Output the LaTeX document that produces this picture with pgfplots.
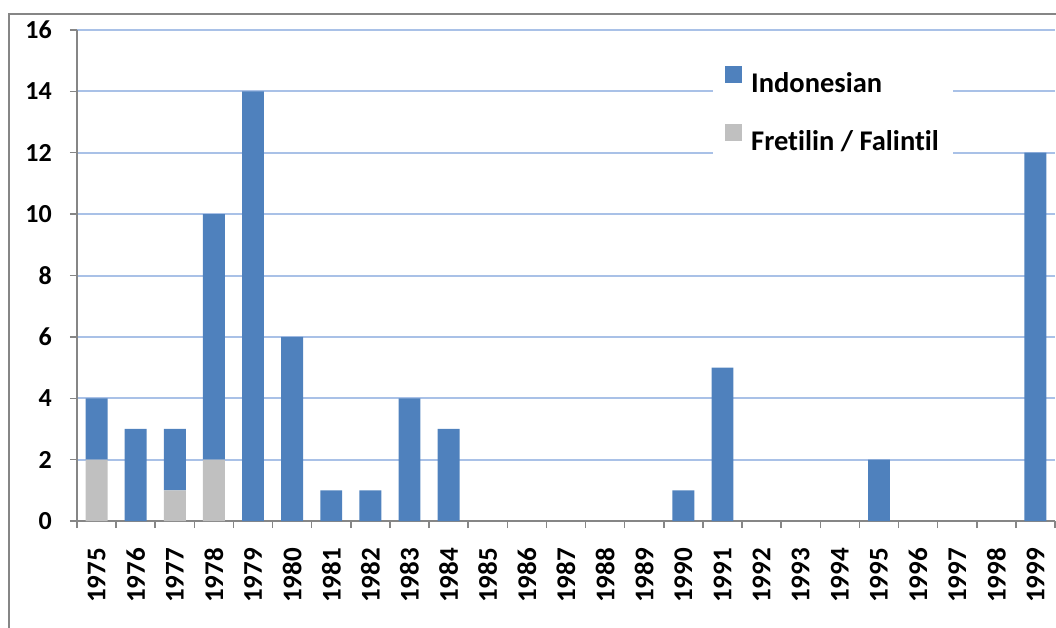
\documentclass[border=0pt]{standalone}
\usepackage{fontspec}
\setmainfont[Ligatures=NoCommon]{Carlito}
\usepackage{pgfplots}
\pgfplotsset{compat=1.18}
\usepackage{pgfplotstable}
\definecolor{indo}{HTML}{4F81BD}
\definecolor{fret}{HTML}{C0C0C0}
\definecolor{gridc}{HTML}{A9C1E7}
\definecolor{axc}{HTML}{868686}
\pgfplotstableread{
x fret indo
0 2 2
1 0 3
2 1 2
3 2 8
4 0 14
5 0 6
6 0 1
7 0 1
8 0 4
9 0 3
10 0 0
11 0 0
12 0 0
13 0 0
14 0 0
15 0 1
16 0 5
17 0 0
18 0 0
19 0 0
20 0 2
21 0 0
22 0 0
23 0 0
24 0 12
}\data
\begin{document}
\begin{tikzpicture}
\useasboundingbox (-77pt,-106pt) rectangle (979pt,521pt);
\draw[axc, line width=2pt] (-68pt,-110pt) -- (-68pt,507pt) -- (985pt,507pt);
\begin{axis}[
  at={(0,0)}, anchor=south west,
  scale only axis, width=978pt, height=491pt,
  ybar stacked, bar width=0.56,
  xmin=-0.5, xmax=24.5, ymin=0, ymax=16,
  axis lines*=left,
  axis line style={axc, line width=2pt},
  xtick={0,...,24},
  minor xtick={-0.5,0.5,...,24.5},
  xticklabels={1975,1976,1977,1978,1979,1980,1981,1982,1983,1984,1985,1986,1987,1988,1989,1990,1991,1992,1993,1994,1995,1996,1997,1998,1999},
  ytick={0,2,...,16},
  tick align=outside, major tick length=7pt, minor tick length=7pt,
  tick style={axc, line width=1.5pt},
  major x tick style={draw=none},
  ymajorgrids, grid style={gridc, line width=2pt},
  /pgf/number format/assume math mode=true,
  yticklabel style={font=\fontsize{26}{31}\selectfont\bfseries, inner sep=0pt, xshift=-18pt},
  xticklabel style={font=\fontsize{27}{32}\selectfont\bfseries, rotate=90, anchor=east, inner sep=0pt, xshift=-20pt},
  reverse legend,
  legend cell align=left,
  legend style={at={(636pt,465pt)}, anchor=north west, draw=none, fill=white,
    font=\fontsize{28.5}{34}\selectfont\bfseries, inner xsep=12pt, inner ysep=10pt,
    row sep=28pt, /tikz/every odd column/.append style={column sep=7pt}},
  legend image code/.code={\fill[#1] (0pt,0pt) rectangle (17pt,17pt);},
]
\addplot[fill=fret, draw=none] table[x=x, y=fret]{\data};
\addlegendentry{Fretilin / Falintil}
\addplot[fill=indo, draw=none] table[x=x, y=indo]{\data};
\addlegendentry{Indonesian}
\end{axis}
\end{tikzpicture}
\end{document}
